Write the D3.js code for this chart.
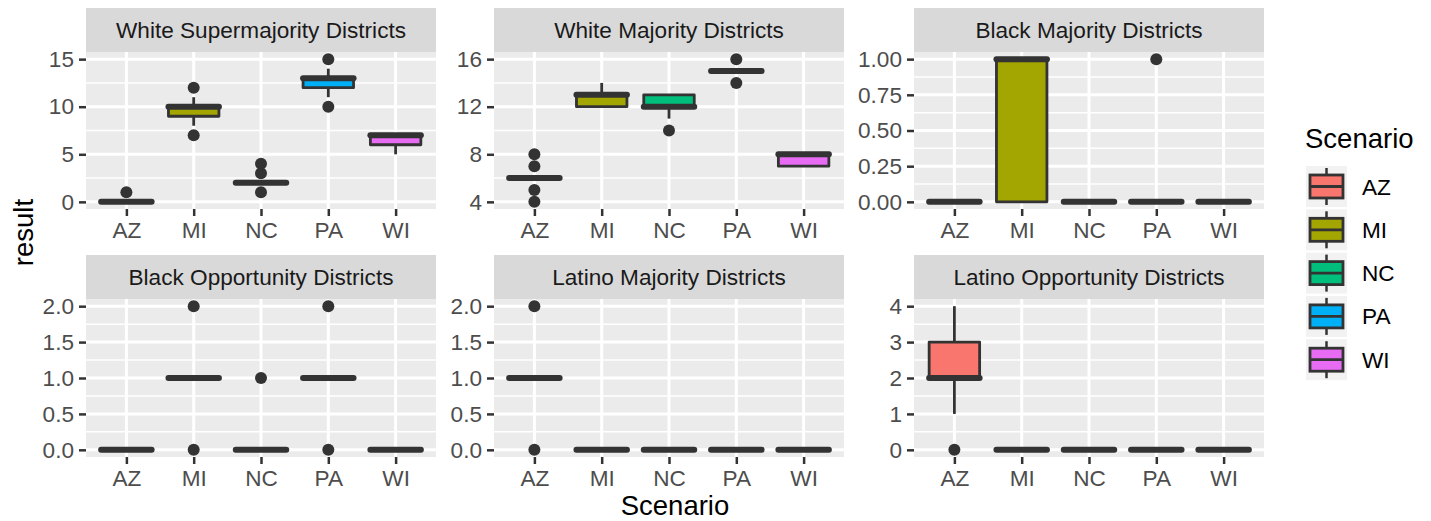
<!DOCTYPE html>
<html>
<head>
<meta charset="utf-8">
<script src="https://cdn.jsdelivr.net/npm/d3@7"></script>
<style>
  body { margin: 0; background: #fff; }
  svg text { font-family: "Liberation Sans", Arial, Helvetica, sans-serif; }
</style>
</head>
<body>
<svg id="chart" width="1431" height="521"></svg>
<script>
// scenarios (x categories + legend)
var scenarios = ["AZ", "MI", "NC", "PA", "WI"];
var fillColors = ["#F8766D", "#A3A500", "#00BF7D", "#00B0F6", "#E76BF3"];

var panelTitles = [
    "White Supermajority Districts", "White Majority Districts", "Black Majority Districts",
    "Black Opportunity Districts", "Latino Majority Districts", "Latino Opportunity Districts"
];

// box stats per scenario: [lower whisker, q1, median, q3, upper whisker]
var whiteSuperStats = [[0, 0, 0, 0, 0], [8, 9, 10, 10, 11], [2, 2, 2, 2, 2], [11, 12, 13, 13, 14], [5, 6, 7, 7, 7]];
var whiteSuperOutliers = [[1], [7, 12], [1, 3, 4], [10, 15], []];

var whiteMajStats = [[6, 6, 6, 6, 6], [12, 12, 13, 13, 14], [11, 12, 12, 13, 13], [15, 15, 15, 15, 15], [7, 7, 8, 8, 8]];
var whiteMajOutliers = [[4, 5, 7, 8], [], [10], [14, 16], []];

var blackMajStats = [[0, 0, 0, 0, 0], [0, 0, 1, 1, 1], [0, 0, 0, 0, 0], [0, 0, 0, 0, 0], [0, 0, 0, 0, 0]];
var blackMajOutliers = [[], [], [], [1], []];

var blackOppStats = [[0, 0, 0, 0, 0], [1, 1, 1, 1, 1], [0, 0, 0, 0, 0], [1, 1, 1, 1, 1], [0, 0, 0, 0, 0]];
var blackOppOutliers = [[], [0, 2], [1], [0, 2], []];

var latinoMajStats = [[1, 1, 1, 1, 1], [0, 0, 0, 0, 0], [0, 0, 0, 0, 0], [0, 0, 0, 0, 0], [0, 0, 0, 0, 0]];
var latinoMajOutliers = [[0, 2], [], [], [], []];

var latinoOppStats = [[1, 2, 2, 3, 4], [0, 0, 0, 0, 0], [0, 0, 0, 0, 0], [0, 0, 0, 0, 0], [0, 0, 0, 0, 0]];
var latinoOppOutliers = [[0], [], [], [], []];

// y tick labels per panel
var whiteSuperTicks = [0, 5, 10, 15];
var whiteMajTicks = [4, 8, 12, 16];
var blackMajTicks = [0, 0.25, 0.5, 0.75, 1];
var blackOppTicks = [0, 0.5, 1, 1.5, 2];
var latinoMajTicks = [0, 0.5, 1, 1.5, 2];
var latinoOppTicks = [0, 1, 2, 3, 4];

var panels = [
    { stats: whiteSuperStats, outliers: whiteSuperOutliers, ticks: whiteSuperTicks, fmt: d3.format("d") },
    { stats: whiteMajStats, outliers: whiteMajOutliers, ticks: whiteMajTicks, fmt: d3.format("d") },
    { stats: blackMajStats, outliers: blackMajOutliers, ticks: blackMajTicks, fmt: d3.format(".2f") },
    { stats: blackOppStats, outliers: blackOppOutliers, ticks: blackOppTicks, fmt: d3.format(".1f") },
    { stats: latinoMajStats, outliers: latinoMajOutliers, ticks: latinoMajTicks, fmt: d3.format(".1f") },
    { stats: latinoOppStats, outliers: latinoOppOutliers, ticks: latinoOppTicks, fmt: d3.format("d") }
];

var svg = d3.select("#chart");
svg.append("rect").attr("width", 1431).attr("height", 521).attr("fill", "#fff");

var colX = [86, 494, 914],
    panelW = 350,
    stripTop = [8, 255],
    stripH = 44,
    plotBottom = [209, 457],
    lineCol = "#333333";

panels.forEach(function(p, i) {
    var col = i % 3, row = Math.floor(i / 3);
    var x0 = colX[col], top = stripTop[row] + stripH, bottom = plotBottom[row];

    // strip
    svg.append("rect")
        .attr("x", x0).attr("y", stripTop[row])
        .attr("width", panelW).attr("height", stripH)
        .attr("fill", "#d9d9d9");
    svg.append("text")
        .attr("x", x0 + panelW / 2).attr("y", stripTop[row] + stripH / 2 + 8)
        .attr("text-anchor", "middle")
        .attr("font-size", 22.6).attr("fill", "#1a1a1a")
        .text(panelTitles[i]);

    // scales
    var all = [];
    p.stats.forEach(function(s, j) { all = all.concat(s, p.outliers[j]); });
    var ext = d3.extent(all), pad = (ext[1] - ext[0]) * 0.05;
    var y = d3.scaleLinear().domain([ext[0] - pad, ext[1] + pad]).range([bottom, top]);
    var x = d3.scalePoint().domain(scenarios).range([x0, x0 + panelW]).padding(0.6);
    var bw = x.step() * 0.75;

    var g = svg.append("g");
    g.append("rect")
        .attr("x", x0).attr("y", top)
        .attr("width", panelW).attr("height", bottom - top)
        .attr("fill", "#ebebeb");

    // minor grid
    var minor = [];
    for (var k = 0; k < p.ticks.length - 1; k++) minor.push((p.ticks[k] + p.ticks[k + 1]) / 2);
    g.selectAll(".minor").data(minor).enter().append("line")
        .attr("x1", x0).attr("x2", x0 + panelW)
        .attr("y1", function(d) { return y(d); }).attr("y2", function(d) { return y(d); })
        .attr("stroke", "#fff").attr("stroke-width", 1.5);
    // major grid
    g.selectAll(".major").data(p.ticks).enter().append("line")
        .attr("x1", x0).attr("x2", x0 + panelW)
        .attr("y1", function(d) { return y(d); }).attr("y2", function(d) { return y(d); })
        .attr("stroke", "#fff").attr("stroke-width", 3);
    g.selectAll(".vgrid").data(scenarios).enter().append("line")
        .attr("x1", function(d) { return x(d); }).attr("x2", function(d) { return x(d); })
        .attr("y1", top).attr("y2", bottom)
        .attr("stroke", "#fff").attr("stroke-width", 3);

    // axes
    var ya = svg.append("g").attr("transform", "translate(" + x0 + ",0)")
        .call(d3.axisLeft(y).tickValues(p.ticks).tickFormat(p.fmt).tickSize(7).tickPadding(5));
    var xa = svg.append("g").attr("transform", "translate(0," + bottom + ")")
        .call(d3.axisBottom(x).tickSize(7).tickPadding(6));
    [ya, xa].forEach(function(a) {
        a.select(".domain").remove();
        a.selectAll(".tick line").attr("stroke", lineCol).attr("stroke-width", 2.5);
        a.selectAll(".tick text").attr("fill", "#4d4d4d").attr("font-size", 22.6)
            .attr("font-family", "Liberation Sans, Arial, sans-serif");
    });

    // boxes
    p.stats.forEach(function(s, j) {
        var cx = x(scenarios[j]);
        var bx = g.append("g");
        bx.append("line")
            .attr("x1", cx).attr("x2", cx).attr("y1", y(s[3])).attr("y2", y(s[4]))
            .attr("stroke", lineCol).attr("stroke-width", 2.8);
        bx.append("line")
            .attr("x1", cx).attr("x2", cx).attr("y1", y(s[1])).attr("y2", y(s[0]))
            .attr("stroke", lineCol).attr("stroke-width", 2.8);
        bx.append("rect")
            .attr("x", cx - bw / 2).attr("width", bw)
            .attr("y", y(s[3])).attr("height", y(s[1]) - y(s[3]))
            .attr("fill", fillColors[j])
            .attr("stroke", lineCol).attr("stroke-width", 2.8)
            .attr("stroke-linejoin", "round");
        bx.append("line")
            .attr("x1", cx - bw / 2).attr("x2", cx + bw / 2)
            .attr("y1", y(s[2])).attr("y2", y(s[2]))
            .attr("stroke", lineCol).attr("stroke-width", 6)
            .attr("stroke-linecap", "round");
        bx.selectAll("circle").data(p.outliers[j]).enter().append("circle")
            .attr("cx", cx).attr("cy", function(d) { return y(d); })
            .attr("r", 6).attr("fill", lineCol);
    });
});

// axis titles
svg.append("text")
    .attr("x", 675).attr("y", 515)
    .attr("text-anchor", "middle").attr("font-size", 27.5).attr("fill", "#000")
    .text("Scenario");
svg.append("text")
    .attr("transform", "translate(33,232.5) rotate(-90)")
    .attr("text-anchor", "middle").attr("font-size", 27.5).attr("fill", "#000")
    .text("result");

// legend
var leg = svg.append("g");
leg.append("text")
    .attr("x", 1305).attr("y", 148)
    .attr("font-size", 27.5).attr("fill", "#000")
    .text("Scenario");
var keyStep = 43.3, keyTop = 166;
scenarios.forEach(function(s, j) {
    var ky = keyTop + j * keyStep, kx = 1306, cx = kx + 20.5;
    leg.append("rect").attr("x", kx).attr("y", ky).attr("width", 41).attr("height", 41).attr("fill", "#f2f2f2");
    leg.append("line").attr("x1", cx).attr("x2", cx).attr("y1", ky + 2).attr("y2", ky + 39)
        .attr("stroke", lineCol).attr("stroke-width", 2.5);
    leg.append("rect").attr("x", kx + 4).attr("y", ky + 9).attr("width", 33).attr("height", 23)
        .attr("fill", fillColors[j]).attr("stroke", lineCol).attr("stroke-width", 2.8);
    leg.append("line").attr("x1", kx + 4).attr("x2", kx + 37).attr("y1", ky + 20.5).attr("y2", ky + 20.5)
        .attr("stroke", lineCol).attr("stroke-width", 2.8);
    leg.append("text").attr("x", 1362).attr("y", ky + 20.5 + 8)
        .attr("font-size", 22.6).attr("fill", "#000").text(s);
});
</script>
</body>
</html>
